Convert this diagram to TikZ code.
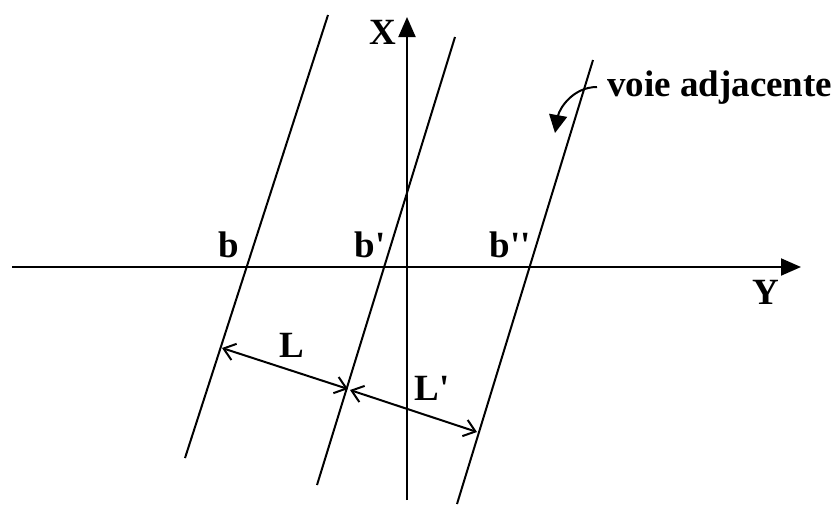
\documentclass[tikz,border=0pt]{standalone}
\usepackage{fontspec}
\setmainfont{Liberation Serif}[Ligatures=TeXOff]
\usetikzlibrary{arrows.meta, positioning}

\begin{document}
\begin{tikzpicture}[x=1pt, y=-1pt,
      lab/.style={inner sep=0pt, font=\fontsize{37}{40}\selectfont\bfseries},
      axis/.style={line width=2pt, -{Triangle[length=20pt, width=17pt]}},
      lane/.style={line width=2pt},
      gap/.style={line width=2pt, {Straight Barb[length=11pt, width=17pt]}-{Straight Barb[length=11pt, width=17pt]}},
    ]
    \useasboundingbox (0,0) rectangle (840,504);

    % Axes
    \coordinate (yl) at (12,267);
    \coordinate (yr) at (801,267);
    \coordinate (xb) at (407,500);
    \coordinate (xt) at (407,17);
    \draw[axis] (yl) -- (yr);
    \draw[axis] (xb) -- (xt);

    % Lanes
    \coordinate (l1t) at (328,15);
    \coordinate (l1b) at (185,458);
    \coordinate (l2t) at (455,37);
    \coordinate (l2b) at (317,485);
    \coordinate (l3t) at (593,60);
    \coordinate (l3b) at (457,504);
    \draw[lane] (l1t) -- (l1b);
    \draw[lane] (l2t) -- (l2b);
    \draw[lane] (l3t) -- (l3b);

    % Widths
    \coordinate (p1) at (222,348);
    \coordinate (p2) at (348,389);
    \coordinate (p3) at (350,390);
    \coordinate (p4) at (477,432);
    \draw[gap] (p1) -- (p2);
    \draw[gap] (p3) -- (p4);

    % Labels
    \node[lab] (X) at (383,32) {X};
    \node[lab] (Y) at (766,292) {Y};
    \node[lab] (b) at (229,245) {b};
    \node[lab] (b1) at (370,245) {b'};
    \node[lab] (b2) at (510,245) {b''};
    \node[lab] (L) at (292,345) {L};
    \node[lab] (L1) at (432,388) {L'};
    \node[lab, anchor=base west] (voie) at (607,96) {voie adjacente};

    % Pointer
    \coordinate (c0) at (597,87);
    \coordinate (c1) at (555,133);
    \draw[line width=2pt, -{Triangle[length=18pt, width=18pt]}] (c0) to[out=180, in=80] (c1);

  \end{tikzpicture}
\end{document}
